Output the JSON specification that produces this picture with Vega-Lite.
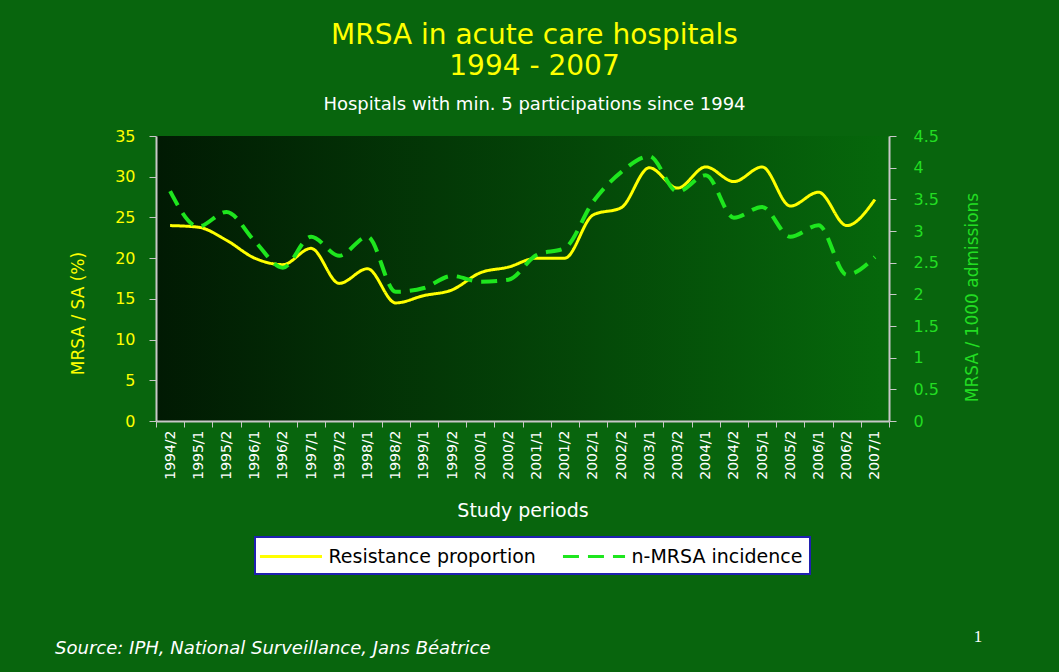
{
  "$schema": "https://vega.github.io/schema/vega-lite/v6.json",
  "width": 733,
  "height": 285,
  "autosize": {"type": "none"},
  "padding": {"left": 156, "top": 136, "right": 170, "bottom": 251},
  "background": "#08650d",
  "config": {
    "view": {"stroke": null, "fill": {"gradient": "linear", "x1": 0, "x2": 1, "y1": 0, "y2": 0, "stops": [{"offset": 0, "color": "#011a03"}, {"offset": 1, "color": "#06680b"}]}},
    "font": "DejaVu Sans",
    "legend": {"strokeWidth": 2}
  },
  "title": {
    "text": ["MRSA in acute care hospitals", "1994 - 2007"],
    "subtitle": "Hospitals with min. 5 participations since 1994",
    "color": "#ffff00",
    "fontSize": 28,
    "fontWeight": "normal",
    "font": "DejaVu Sans",
    "lineHeight": 31,
    "subtitleColor": "white",
    "subtitleFontSize": 18,
    "subtitleFont": "DejaVu Sans",
    "subtitlePadding": 15,
    "anchor": "middle",
    "offset": 14,
    "dx": 12
  },
  "data": {"values": [
    {"period": "1994/2", "series": "Resistance proportion", "value": 24.0},
    {"period": "1995/1", "series": "Resistance proportion", "value": 23.8},
    {"period": "1995/2", "series": "Resistance proportion", "value": 22.2},
    {"period": "1996/1", "series": "Resistance proportion", "value": 20.0},
    {"period": "1996/2", "series": "Resistance proportion", "value": 19.2},
    {"period": "1997/1", "series": "Resistance proportion", "value": 21.2},
    {"period": "1997/2", "series": "Resistance proportion", "value": 16.9},
    {"period": "1998/1", "series": "Resistance proportion", "value": 18.7},
    {"period": "1998/2", "series": "Resistance proportion", "value": 14.5},
    {"period": "1999/1", "series": "Resistance proportion", "value": 15.4},
    {"period": "1999/2", "series": "Resistance proportion", "value": 16.1},
    {"period": "2000/1", "series": "Resistance proportion", "value": 18.2},
    {"period": "2000/2", "series": "Resistance proportion", "value": 18.9},
    {"period": "2001/1", "series": "Resistance proportion", "value": 20.0},
    {"period": "2001/2", "series": "Resistance proportion", "value": 20.0},
    {"period": "2002/1", "series": "Resistance proportion", "value": 25.3},
    {"period": "2002/2", "series": "Resistance proportion", "value": 26.2},
    {"period": "2003/1", "series": "Resistance proportion", "value": 31.1},
    {"period": "2003/2", "series": "Resistance proportion", "value": 28.6},
    {"period": "2004/1", "series": "Resistance proportion", "value": 31.2},
    {"period": "2004/2", "series": "Resistance proportion", "value": 29.4},
    {"period": "2005/1", "series": "Resistance proportion", "value": 31.2},
    {"period": "2005/2", "series": "Resistance proportion", "value": 26.4},
    {"period": "2006/1", "series": "Resistance proportion", "value": 28.1},
    {"period": "2006/2", "series": "Resistance proportion", "value": 24.0},
    {"period": "2007/1", "series": "Resistance proportion", "value": 27.2},
    {"period": "1994/2", "series": "n-MRSA incidence", "value": 3.63},
    {"period": "1995/1", "series": "n-MRSA incidence", "value": 3.07},
    {"period": "1995/2", "series": "n-MRSA incidence", "value": 3.30},
    {"period": "1996/1", "series": "n-MRSA incidence", "value": 2.84},
    {"period": "1996/2", "series": "n-MRSA incidence", "value": 2.42},
    {"period": "1997/1", "series": "n-MRSA incidence", "value": 2.91},
    {"period": "1997/2", "series": "n-MRSA incidence", "value": 2.61},
    {"period": "1998/1", "series": "n-MRSA incidence", "value": 2.91},
    {"period": "1998/2", "series": "n-MRSA incidence", "value": 2.04},
    {"period": "1999/1", "series": "n-MRSA incidence", "value": 2.10},
    {"period": "1999/2", "series": "n-MRSA incidence", "value": 2.29},
    {"period": "2000/1", "series": "n-MRSA incidence", "value": 2.20},
    {"period": "2000/2", "series": "n-MRSA incidence", "value": 2.23},
    {"period": "2001/1", "series": "n-MRSA incidence", "value": 2.62},
    {"period": "2001/2", "series": "n-MRSA incidence", "value": 2.73},
    {"period": "2002/1", "series": "n-MRSA incidence", "value": 3.46},
    {"period": "2002/2", "series": "n-MRSA incidence", "value": 3.93},
    {"period": "2003/1", "series": "n-MRSA incidence", "value": 4.18},
    {"period": "2003/2", "series": "n-MRSA incidence", "value": 3.62},
    {"period": "2004/1", "series": "n-MRSA incidence", "value": 3.88},
    {"period": "2004/2", "series": "n-MRSA incidence", "value": 3.21},
    {"period": "2005/1", "series": "n-MRSA incidence", "value": 3.38},
    {"period": "2005/2", "series": "n-MRSA incidence", "value": 2.91},
    {"period": "2006/1", "series": "n-MRSA incidence", "value": 3.09},
    {"period": "2006/2", "series": "n-MRSA incidence", "value": 2.31},
    {"period": "2007/1", "series": "n-MRSA incidence", "value": 2.59}
  ]},
  "encoding": {
    "x": {
      "field": "period",
      "type": "ordinal",
      "bandPosition": 0.5,
      "scale": {"type": "band", "paddingInner": 0, "paddingOuter": 0},
      "axis": {
        "title": "Study periods",
        "labelAngle": -90,
        "labelColor": "white",
        "labelFontSize": 14,
        "labelPadding": 3,
        "tickBand": "extent",
        "tickSize": 6,
        "tickColor": "#c8c8c8",
        "domainColor": "#c8c8c8",
        "domainWidth": 2,
        "titleColor": "white",
        "titleFontSize": 19,
        "titleFontWeight": "normal",
        "titlePadding": 22
      }
    },
    "color": {
      "field": "series",
      "type": "nominal",
      "scale": {"domain": ["Resistance proportion", "n-MRSA incidence"], "range": ["#ffff00", "#1ee61e"]},
      "legend": {"orient": "none", "legendX": 99, "legendY": 401, "direction": "horizontal", "title": null, "fillColor": "white", "strokeColor": "#2020b0", "padding": 7.5, "labelColor": "black", "labelFontSize": 19, "labelLimit": 400, "symbolType": "M-3,0H3", "symbolSize": 428, "symbolStrokeWidth": 3, "symbolOffset": 16.5, "labelOffset": 25.5, "columnPadding": 20}
    },
    "strokeDash": {
      "field": "series",
      "type": "nominal",
      "scale": {"domain": ["Resistance proportion", "n-MRSA incidence"], "range": [[1, 0], [16, 9]]},
      "legend": {"orient": "none", "legendX": 99, "legendY": 401, "direction": "horizontal", "title": null, "fillColor": "white", "strokeColor": "#2020b0", "padding": 7.5, "labelColor": "black", "labelFontSize": 19, "labelLimit": 400, "symbolType": "M-3,0H3", "symbolSize": 428, "symbolStrokeWidth": 3, "symbolOffset": 16.5, "labelOffset": 25.5, "columnPadding": 20}
    }
  },
  "layer": [
    {
      "layer": [
        {
          "transform": [{"filter": "datum.series === 'Resistance proportion'"}],
          "mark": {"type": "line", "interpolate": "monotone", "strokeWidth": 3},
          "encoding": {
            "y": {
              "field": "value",
              "type": "quantitative",
              "scale": {"domain": [0, 35]},
              "axis": {
                "title": "MRSA / SA (%)",
                "values": [0, 5, 10, 15, 20, 25, 30, 35],
                "grid": false,
                "labelColor": "#ffff00",
                "labelFontSize": 16,
                "labelPadding": 14,
                "tickSize": 7,
                "tickColor": "#c8c8c8",
                "domainColor": "#c8c8c8",
                "domainWidth": 2,
                "titleColor": "#ffff00",
                "titleFontSize": 17,
                "titleFontWeight": "normal",
                "titleBaseline": "middle",
                "titleAlign": "center",
                "titleX": -78,
                "titleY": 177
              }
            }
          }
        },
        {
          "data": {"values": [{"note": "Source: IPH, National Surveillance, Jans Béatrice"}]},
          "mark": {"type": "text", "align": "left", "baseline": "middle", "dx": -115, "fontStyle": "italic", "fontSize": 18, "color": "white"},
          "encoding": {
            "x": {"datum": "1994/2", "type": "ordinal", "bandPosition": 0.5},
            "y": {"datum": -28, "type": "quantitative", "scale": {"domain": [0, 35]}},
            "text": {"field": "note"},
            "color": null,
            "strokeDash": null
          }
        },
        {
          "data": {"values": [{"note": "1"}]},
          "mark": {"type": "text", "align": "center", "baseline": "middle", "dx": 103, "font": "Liberation Serif", "fontSize": 17, "color": "white"},
          "encoding": {
            "x": {"datum": "2007/1", "type": "ordinal", "bandPosition": 0.5},
            "y": {"datum": -26.5, "type": "quantitative", "scale": {"domain": [0, 35]}},
            "text": {"field": "note"},
            "color": null,
            "strokeDash": null
          }
        }
      ]
    },
    {
      "transform": [{"filter": "datum.series === 'n-MRSA incidence'"}],
      "mark": {"type": "line", "interpolate": "monotone", "strokeWidth": 4},
      "encoding": {
        "y": {
          "field": "value",
          "type": "quantitative",
          "scale": {"domain": [0, 4.5]},
          "axis": {
            "orient": "right",
            "title": "MRSA / 1000 admissions",
            "values": [0, 0.5, 1, 1.5, 2, 2.5, 3, 3.5, 4, 4.5],
            "format": ".1~f",
            "grid": false,
            "labelColor": "#22dd22",
            "labelFontSize": 16,
            "labelPadding": 17,
            "tickSize": 7,
            "tickColor": "#c8c8c8",
            "domainColor": "#c8c8c8",
            "domainWidth": 2,
            "titleColor": "#22dd22",
            "titleFontSize": 17,
            "titleFontWeight": "normal",
            "titleAngle": -90,
            "titleBaseline": "middle",
            "titleAlign": "center",
            "titleX": 83,
            "titleY": 161
          }
        }
      }
    }
  ],
  "resolve": {"scale": {"y": "independent"}}
}
